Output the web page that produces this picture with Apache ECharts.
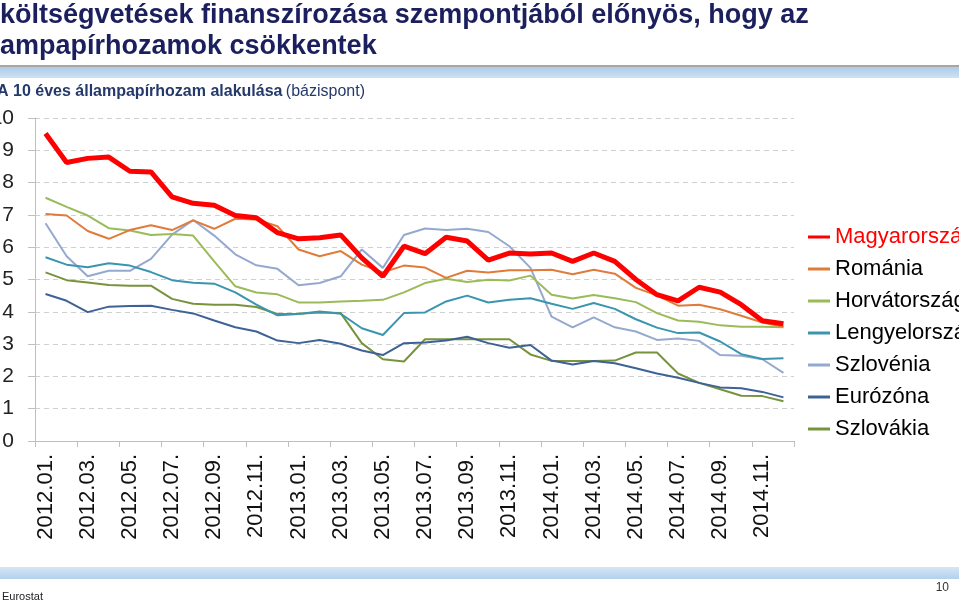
<!DOCTYPE html>
<html>
<head>
<meta charset="utf-8">
<script src="https://cdn.jsdelivr.net/npm/echarts/dist/echarts.min.js"></script>
<style>
  html, body { margin: 0; padding: 0; background: #fff; }
  #chart { width: 959px; height: 602px; }
</style>
</head>
<body>
<div id="chart"></div>
<script>
// hónapok (2012.01. - 2014.12.)
var months = [
  '2012.01.', '2012.02.', '2012.03.', '2012.04.', '2012.05.', '2012.06.',
  '2012.07.', '2012.08.', '2012.09.', '2012.10.', '2012.11.', '2012.12.',
  '2013.01.', '2013.02.', '2013.03.', '2013.04.', '2013.05.', '2013.06.',
  '2013.07.', '2013.08.', '2013.09.', '2013.10.', '2013.11.', '2013.12.',
  '2014.01.', '2014.02.', '2014.03.', '2014.04.', '2014.05.', '2014.06.',
  '2014.07.', '2014.08.', '2014.09.', '2014.10.', '2014.11.', '2014.12.'
];

var names = ['Magyarország', 'Románia', 'Horvátország', 'Lengyelország', 'Szlovénia', 'Eurózóna', 'Szlovákia'];

var magyarorszag = [9.52, 8.62, 8.75, 8.79, 8.35, 8.33, 7.56, 7.36, 7.30,
  6.98, 6.91, 6.45, 6.26, 6.29, 6.38, 5.67, 5.10, 6.03,
  5.80, 6.31, 6.19, 5.60, 5.82, 5.79, 5.82, 5.56, 5.82,
  5.56, 5.00, 4.53, 4.34, 4.76, 4.61, 4.22, 3.72, 3.63];
var romania = [7.03, 6.98, 6.50, 6.26, 6.53, 6.68, 6.53, 6.83, 6.57,
  6.88, 6.86, 6.65, 5.93, 5.72, 5.88, 5.46, 5.22, 5.43,
  5.37, 5.05, 5.27, 5.22, 5.29, 5.29, 5.30, 5.16, 5.30,
  5.18, 4.74, 4.51, 4.19, 4.22, 4.08, 3.88, 3.67, 3.54];
var horvatorszag = [7.53, 7.25, 6.98, 6.59, 6.52, 6.38, 6.41, 6.36, 5.56,
  4.79, 4.60, 4.54, 4.29, 4.29, 4.32, 4.34, 4.37, 4.60,
  4.89, 5.02, 4.92, 4.99, 4.97, 5.12, 4.53, 4.41, 4.52,
  4.42, 4.30, 3.96, 3.73, 3.69, 3.58, 3.54, 3.54, 3.52];
var lengyelorszag = [5.69, 5.46, 5.38, 5.50, 5.43, 5.23, 4.98, 4.90, 4.87,
  4.60, 4.22, 3.89, 3.93, 4.01, 3.94, 3.49, 3.28, 3.96,
  3.98, 4.32, 4.50, 4.29, 4.37, 4.42, 4.25, 4.09, 4.27,
  4.09, 3.77, 3.51, 3.34, 3.36, 3.08, 2.69, 2.54, 2.56];
var szlovenia = [6.74, 5.72, 5.10, 5.27, 5.27, 5.64, 6.39, 6.84, 6.36,
  5.78, 5.44, 5.33, 4.82, 4.89, 5.10, 5.93, 5.36, 6.38,
  6.58, 6.53, 6.57, 6.47, 6.03, 5.36, 3.85, 3.52, 3.83,
  3.52, 3.39, 3.13, 3.17, 3.10, 2.66, 2.64, 2.53, 2.11];
var eurozona = [4.55, 4.34, 3.99, 4.16, 4.18, 4.19, 4.06, 3.95, 3.73,
  3.52, 3.39, 3.11, 3.03, 3.13, 3.01, 2.80, 2.66, 3.03,
  3.05, 3.11, 3.23, 3.03, 2.89, 2.97, 2.49, 2.37, 2.48,
  2.41, 2.25, 2.09, 1.96, 1.80, 1.66, 1.63, 1.52, 1.35];
var szlovakia = [5.22, 4.98, 4.91, 4.83, 4.81, 4.81, 4.40, 4.25, 4.22,
  4.22, 4.15, 3.93, 3.94, 3.98, 3.96, 3.03, 2.53, 2.46,
  3.15, 3.15, 3.15, 3.15, 3.15, 2.68, 2.48, 2.48, 2.48,
  2.49, 2.74, 2.74, 2.09, 1.80, 1.60, 1.40, 1.39, 1.23];

var allData = [magyarorszag, romania, horvatorszag, lengyelorszag, szlovenia, eurozona, szlovakia];
var colors = ['#ff0000', '#e07b39', '#9bbb59', '#3a95ae', '#95a9d0', '#3e6296', '#77933c'];
var widths = [5, 2, 2, 2, 2, 2, 2];

var chart = echarts.init(document.getElementById('chart'));

var seriesArr = names.map(function (n, i) {
  return {
    name: n,
    type: 'line',
    data: allData[i],
    symbol: 'none',
    z: 10 - i + (i === 0 ? 10 : 0),
    lineStyle: { color: colors[i], width: widths[i] },
    itemStyle: { color: colors[i] }
  };
});

var font = '"Liberation Sans", Arial, sans-serif';

var option = {
  backgroundColor: '#fff',
  animation: false,
  textStyle: { fontFamily: font },
  graphic: [
    // fejléc
    { type: 'text', left: 0, top: 2, style: { text: 'költségvetések finanszírozása szempontjából előnyös, hogy az', font: 'bold 27px ' + font, fill: '#1c1f5e' } },
    { type: 'text', left: 0, top: 33, style: { text: 'ampapírhozamok csökkentek', font: 'bold 27px ' + font, fill: '#1c1f5e' } },
    { type: 'rect', shape: { x: 0, y: 65, width: 959, height: 2 }, style: { fill: '#a6a6a6' } },
    { type: 'rect', shape: { x: 0, y: 67, width: 959, height: 11 },
      style: { fill: new echarts.graphic.LinearGradient(0, 0, 0, 1, [{ offset: 0, color: '#aecbe8' }, { offset: 1, color: '#cfe1f3' }]) } },
    { type: 'text', left: -3, top: 84, style: {
        text: '{b|A 10 éves állampapírhozam alakulása} {n|(bázispont)}',
        rich: {
          b: { font: 'bold 16px ' + font, fill: '#253a6b' },
          n: { font: '16px ' + font, fill: '#253a6b' }
        } } },
    // lábléc
    { type: 'rect', shape: { x: 0, y: 567, width: 959, height: 12 },
      style: { fill: new echarts.graphic.LinearGradient(0, 0, 0, 1, [{ offset: 0, color: '#d6e6f5' }, { offset: 1, color: '#b3d0ec' }]) } },
    { type: 'text', left: 2, top: 591, style: { text: 'Eurostat', font: '11px ' + font, fill: '#222' } },
    { type: 'text', right: 10, top: 582, style: { text: '10', font: '12px ' + font, fill: '#333' } }
  ],
  legend: {
    orient: 'vertical',
    left: 803,
    top: 221,
    itemGap: 10,
    itemWidth: 22,
    itemHeight: 3,
    icon: 'rect',
    textStyle: { fontSize: 22, color: '#000', fontFamily: font },
    data: names.map(function (n, i) {
      return i === 0 ? { name: n, textStyle: { color: '#ff0000' } } : { name: n };
    })
  },
  grid: { left: 35, right: 165, top: 118, bottom: 161, containLabel: false, outerBoundsMode: 'none' },
  xAxis: {
    type: 'category',
    data: months,
    boundaryGap: true,
    axisLine: { lineStyle: { color: '#bfbfbf', width: 1 } },
    axisTick: { show: true, interval: 1, length: 6, lineStyle: { color: '#bfbfbf' } },
    axisLabel: { interval: 1, rotate: 90, fontSize: 22, color: '#111', margin: 13, fontFamily: font },
    splitLine: { show: false }
  },
  yAxis: {
    type: 'value',
    min: 0,
    max: 10,
    interval: 1,
    axisLine: { show: true, lineStyle: { color: '#bfbfbf' } },
    axisTick: { show: true, length: 7, lineStyle: { color: '#bfbfbf' } },
    axisLabel: { fontSize: 21, color: '#222', margin: 21, fontFamily: font },
    splitLine: { lineStyle: { color: '#d0d0d0', type: [5, 4] } }
  },
  series: seriesArr
};

chart.setOption(option);
</script>
</body>
</html>
